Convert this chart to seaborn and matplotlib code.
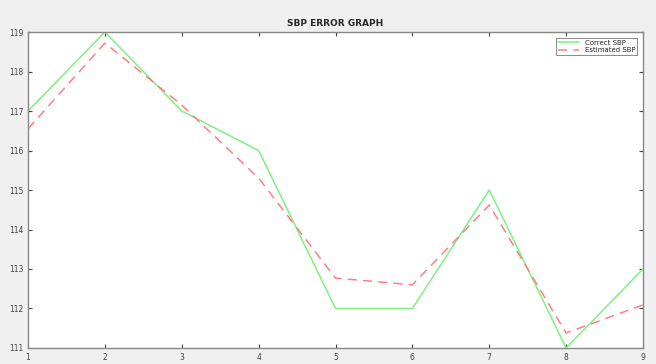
import matplotlib
matplotlib.use("Agg")
import matplotlib.pyplot as plt
import seaborn as sns
import pandas as pd

x_vals = [1, 2, 3, 4, 5, 6, 7, 8, 9]
correct_sbp = [117, 119, 117, 116, 112, 112, 115, 111, 113]
estimated_sbp = [116.55, 118.72, 117.15, 115.3, 112.77, 112.6, 114.62, 111.38, 112.09]

sns.set_style("white")
plt.rcParams['font.family'] = ['DejaVu Sans']

df = pd.DataFrame({"x": x_vals, "Correct SBP": correct_sbp, "Estimated SBP": estimated_sbp})

fig = plt.figure(figsize=(6.56, 3.64), dpi=100, facecolor="#f0f0f0")
ax = fig.add_axes([0.0427, 0.044, 0.9375, 0.868])
ax.set_facecolor("white")

sns.lineplot(data=df, x="x", y="Correct SBP", ax=ax, color="#80f080", linewidth=1.1, label="Correct SBP")
sns.lineplot(data=df, x="x", y="Estimated SBP", ax=ax, color="#ff8080", linewidth=1.1,
             linestyle=(0, (6, 4)), label="Estimated SBP")

ax.set_xlim(1, 9)
ax.set_ylim(111, 119)
ax.set_xticks(x_vals)
ax.set_yticks(range(111, 120))
ax.set_xlabel("")
ax.set_ylabel("")
ax.set_title("SBP ERROR GRAPH", fontsize=6.5, fontweight="bold", pad=4)
ax.tick_params(direction="in", length=3, labelsize=5.5, colors="#444444", width=0.8)
for s in ax.spines.values():
    s.set_color("#888888")
    s.set_linewidth(1.0)
ax.tick_params(top=True, right=True, bottom=True, left=True)

leg = ax.legend(loc="upper right", fontsize=5, frameon=True, fancybox=False,
                handlelength=3, borderpad=0.3, labelspacing=0.2, borderaxespad=0.8)
leg.get_frame().set_edgecolor("#555555")
leg.get_frame().set_linewidth(0.6)

fig.savefig("out.png", dpi=100, facecolor=fig.get_facecolor())
